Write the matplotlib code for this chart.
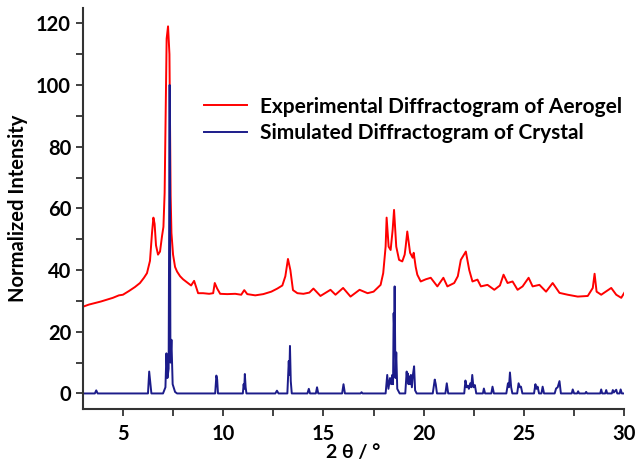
import matplotlib.pyplot as plt
import numpy as np
from matplotlib.ticker import MultipleLocator

# experimental diffractogram of the aerogel
exp_x = [3.0, 3.3, 3.6, 3.9, 4.2, 4.5, 4.8, 5.0, 5.3, 5.6, 5.85, 6.05, 6.2, 6.35,
         6.45, 6.52, 6.58, 6.65, 6.75, 6.85, 6.95, 7.02, 7.08, 7.12, 7.18, 7.25,
         7.32, 7.38, 7.42, 7.5, 7.6, 7.7, 7.85, 8.0, 8.2, 8.4, 8.55, 8.65, 8.75,
         9.0, 9.3, 9.5, 9.58, 9.7, 9.85, 10.2, 10.6, 10.9, 11.05, 11.2, 11.6, 12.0,
         12.4, 12.7, 12.95, 13.1, 13.23, 13.35, 13.48, 13.7, 14.0, 14.3, 14.5,
         14.85, 15.1, 15.35, 15.6, 15.98, 16.35, 16.8, 17.2, 17.5, 17.85, 17.98,
         18.1, 18.15, 18.25, 18.35, 18.45, 18.52, 18.63, 18.77, 18.93, 19.05, 19.1,
         19.18, 19.32, 19.45, 19.5, 19.6, 19.68, 19.85, 20.1, 20.35, 20.68, 20.98,
         21.18, 21.52, 21.7, 21.85, 22.1, 22.27, 22.43, 22.68, 22.85, 23.18, 23.52,
         23.8, 23.98, 24.18, 24.43, 24.68, 24.93, 25.23, 25.43, 25.77, 26.1, 26.43,
         26.77, 27.18, 27.68, 28.18, 28.43, 28.52, 28.62, 28.85, 29.35, 29.6, 29.85,
         30.0]
exp_y = [28.1, 28.8, 29.3, 29.8, 30.4, 31.0, 31.8, 32.0, 33.2, 34.5, 35.8, 37.5, 39.0, 43,
         52, 57, 55, 48, 45, 46, 51, 54, 65, 86, 115, 119,
         110, 64, 52, 45, 41, 39.5, 38, 37, 36, 35, 36.5, 34.5, 32.5,
         32.5, 32.3, 32.5, 35.8, 34, 32.3, 32.2, 32.3, 32, 33.5, 32.2, 31.8, 32.2,
         33, 34, 35, 38, 43.6, 40, 33.5, 32.5, 32.3, 32.7, 34,
         31.6, 32.6, 33.6, 32, 34.2, 31.4, 33.6, 32.5, 33, 35.2, 39,
         47.6, 57, 47.6, 46.5, 53, 59.5, 47.6, 43.3, 42.8, 45, 47.6,
         52.5, 45.6, 44, 45.6, 41, 38.5, 36.3, 37, 37.5, 34.7, 37.5,
         34.7, 35.8, 38, 43.3, 46, 40, 36.3, 36.9, 34.7, 35.2, 33.6,
         35, 38.5, 35.8, 36.3, 33.6, 34.7, 37.5, 34.7, 35.2, 33, 35.8,
         32.6, 32, 31.4, 31.6, 34.2, 38.8, 33, 32, 34.2, 32, 31,
         32.6]

# simulated diffractogram of the crystal
sim_x = [3.0, 3.6, 3.67, 3.74,
         6.25, 6.31, 6.36, 6.42,
         7.0, 7.12, 7.17, 7.22, 7.28, 7.33, 7.37, 7.42, 7.48, 7.6, 7.7,
         9.6, 9.66, 9.7, 9.74,
         10.98, 11.02, 11.05, 11.08, 11.12, 11.16,
         12.6, 12.68, 12.76,
         13.2, 13.27, 13.3, 13.33, 13.37, 13.42,
         14.2, 14.27, 14.33, 14.62, 14.68, 14.74,
         15.93, 16.0, 16.07, 16.85, 16.9, 16.95,
         18.1, 18.18, 18.24, 18.32, 18.38, 18.43, 18.47, 18.5, 18.53, 18.55, 18.59, 18.63, 18.68, 18.8,
         19.08, 19.15, 19.18, 19.2, 19.24, 19.28, 19.32, 19.36, 19.41, 19.46, 19.52, 19.57, 19.65,
         20.45, 20.55, 20.6, 20.66,
         21.08, 21.15, 21.22,
         22.02, 22.08, 22.14, 22.2, 22.25, 22.32, 22.37, 22.42, 22.48, 22.55, 22.62,
         22.95, 23.0, 23.06, 23.37, 23.43, 23.5,
         24.12, 24.2, 24.25, 24.3, 24.36, 24.42,
         24.66, 24.73, 24.8, 24.85, 24.92,
         25.5, 25.57, 25.62, 25.68, 25.75, 25.87, 25.93, 26.0,
         26.53, 26.6, 26.68, 26.77, 26.84,
         27.38, 27.43, 27.5, 27.65, 27.7, 27.75, 28.05, 28.1, 28.15,
         28.8, 28.85, 28.9, 29.05, 29.1, 29.15, 29.38, 29.43, 29.48, 29.6, 29.65,
         29.77, 29.82, 29.88, 30.0]
sim_y = [0, 0, 1.0, 0,
         0, 7.1, 4, 0,
         0, 2, 13, 5, 8, 100, 10, 17.4, 3, 0.5, 0,
         0, 5.8, 4.5, 0,
         0, 3, 1.5, 6.3, 2, 0,
         0, 0.9, 0,
         0, 10.5, 6, 15.4, 4, 0,
         0, 1.5, 0, 0, 2, 0,
         0, 3, 0, 0, 0.4, 0,
         0, 6, 1.5, 5, 3, 6, 3, 26, 20, 34.7, 5, 13.3, 1.5, 0,
         0, 7.1, 4, 6.5, 3, 5.5, 3, 6, 2, 6, 8.8, 1, 0,
         0, 4.5, 3, 0,
         0, 3.3, 0,
         0, 4.2, 2, 2.5, 1.5, 3.3, 2, 6, 2, 2.7, 0,
         0, 1.6, 0, 0, 2.2, 0,
         0, 3.3, 2, 6.8, 2, 0,
         0, 3.3, 2, 2.2, 0,
         0, 3, 1.5, 2.2, 0, 0, 2.2, 0,
         0, 1.6, 2, 4, 0,
         0, 1.3, 0, 0, 0.7, 0, 0, 0.5, 0,
         0, 1.3, 0, 0, 1.1, 0, 0, 1.1, 0.3, 1.2, 0,
         0, 1.3, 0, 0]

fig = plt.figure(figsize=(6.37, 4.62), dpi=100)
ax = fig.add_axes([0.130, 0.115, 0.850, 0.868])

ax.plot(exp_x, exp_y, color='#ff0000', lw=1.4,
        label='Experimental Diffractogram of Aerogel')
ax.plot(sim_x, sim_y, color='#1c1c8a', lw=1.4,
        label='Simulated Diffractogram of Crystal')

ax.set_xlim(3, 30)
ax.set_ylim(-5, 125)
ax.xaxis.set_major_locator(MultipleLocator(5))
ax.xaxis.set_minor_locator(MultipleLocator(2.5))
ax.yaxis.set_major_locator(MultipleLocator(20))
ax.yaxis.set_minor_locator(MultipleLocator(10))
ax.set_yticks(np.arange(0, 121, 20))

for s in ['top', 'right']:
    ax.spines[s].set_visible(False)
for s in ['left', 'bottom']:
    ax.spines[s].set_linewidth(1.5)
    ax.spines[s].set_color('#333333')
ax.tick_params(which='both', direction='out', width=1.3, color='#333333', length=5)
ax.tick_params(axis='x', which='major', pad=6)

font = 'Lato'
for lab in ax.get_xticklabels() + ax.get_yticklabels():
    lab.set_fontfamily(font)
    lab.set_fontweight('bold')
    lab.set_fontsize(14.5)

ax.set_xlabel('2 θ / °', fontfamily=font, fontweight='bold', fontsize=14, labelpad=0)
ax.set_ylabel('Normalized Intensity', fontfamily=font, fontweight='bold', fontsize=14.5, labelpad=6)

leg = ax.legend(loc='upper left', bbox_to_anchor=(0.19, 0.825), frameon=False,
                handlelength=2.05, handletextpad=0.6, labelspacing=0.3,
                prop={'family': font, 'weight': 'bold', 'size': 15})

plt.savefig('out.png', dpi=100)
